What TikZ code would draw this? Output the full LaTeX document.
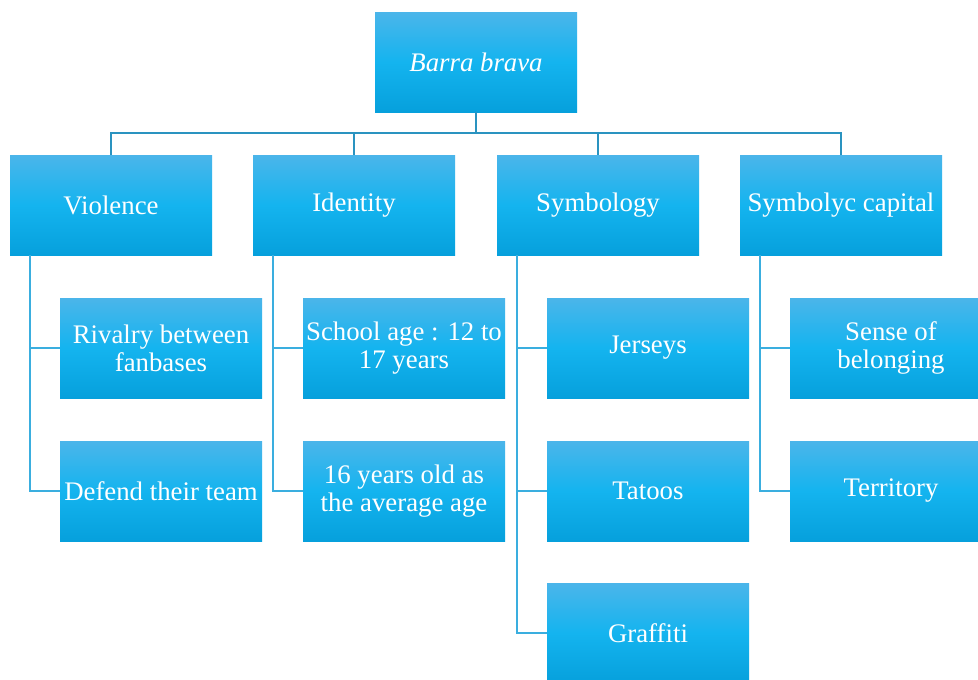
\documentclass[tikz,border=0pt]{standalone}
\usepackage{fontspec}
\setmainfont{Liberation Serif}
\definecolor{boxtop}{HTML}{4BB5EA}
\definecolor{boxmid}{HTML}{14B4EF}
\definecolor{boxbot}{HTML}{06A0DC}
\definecolor{busline}{HTML}{2A93C0}
\definecolor{subline}{HTML}{3AAEDF}
\tikzset{
  box/.style={rectangle, minimum width=202pt, minimum height=100pt, inner sep=0pt,
    top color=boxtop, bottom color=boxbot, middle color=boxmid,
    text=white, align=center, font=\fontsize{26.8}{28}\selectfont},
  bus/.style={draw=busline, line width=1.6pt},
  sub/.style={draw=subline, line width=1.5pt}
}
\begin{document}
\begin{tikzpicture}[x=1pt,y=-1pt]
\clip (0,0) rectangle (978,680);
\fill[white] (0,0) rectangle (978,680);
\node[box] (root) at (476,62) {\itshape Barra brava};
\node[box] (viol) at (111,205) {Violence};
\node[box] (ident) at (354,205) {Identity};
\node[box] (symb) at (598,205) {Symbology};
\node[box] (cap) at (841,205) {Symbolyc capital};
\node[box] (rival) at (161,348) {Rivalry between\\fanbases};
\node[box] (defend) at (161,491) {Defend their team};
\node[box] (school) at (404,348) {School age : 12 to\\17 years};
\node[box] (avg) at (404,491) {16 years old as\\the average age};
\node[box] (jers) at (648,348) {Jerseys};
\node[box] (tat) at (648,491) {Tatoos};
\node[box] (graf) at (648,633) {Graffiti};
\node[box] (sense) at (891,348) {Sense of\\belonging};
\node[box] (terr) at (891,491) {Territory};
\path[bus] (root.south) -- ++(0,21) coordinate (busc);
\path[bus] (viol.north) |- (busc) -| (cap.north);
\path[bus] (ident.north) -- (ident.north |- busc);
\path[bus] (symb.north) -- (symb.north |- busc);
\path[sub] ([xshift=20pt]viol.south west) |- (rival.west);
\path[sub] ([xshift=20pt]viol.south west) |- (defend.west);
\path[sub] ([xshift=20pt]ident.south west) |- (school.west);
\path[sub] ([xshift=20pt]ident.south west) |- (avg.west);
\path[sub] ([xshift=20pt]symb.south west) |- (jers.west);
\path[sub] ([xshift=20pt]symb.south west) |- (tat.west);
\path[sub] ([xshift=20pt]symb.south west) |- (graf.west);
\path[sub] ([xshift=20pt]cap.south west) |- (sense.west);
\path[sub] ([xshift=20pt]cap.south west) |- (terr.west);
\end{tikzpicture}
\end{document}
